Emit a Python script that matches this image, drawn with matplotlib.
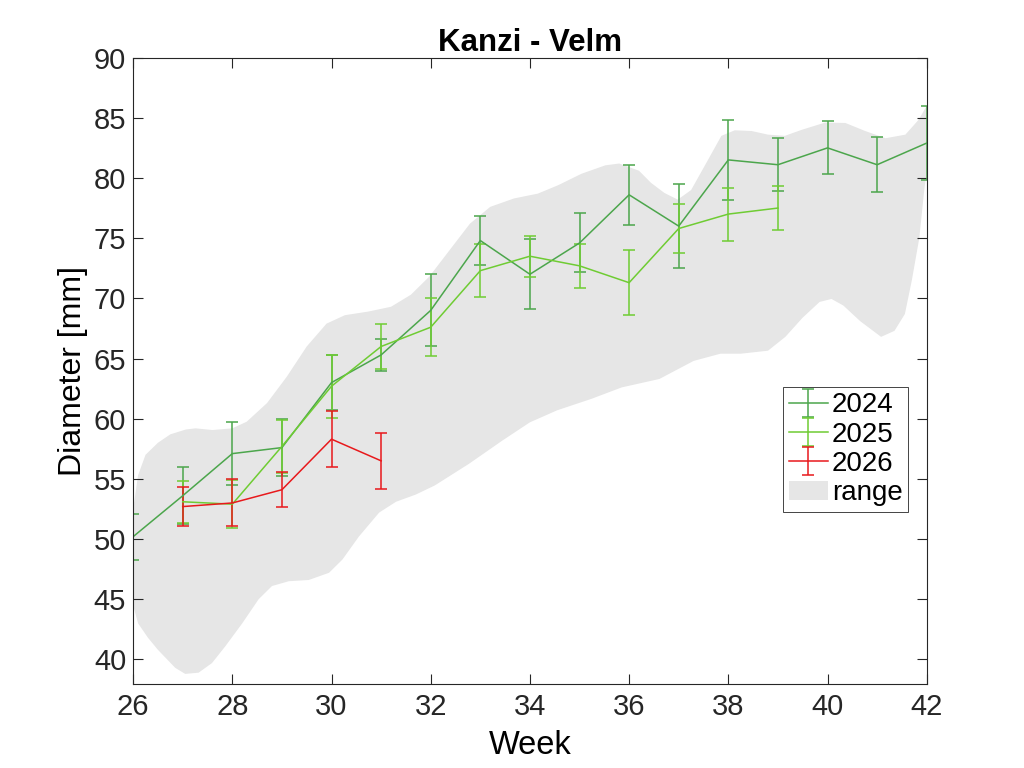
import matplotlib

matplotlib.use("Agg")

import matplotlib.pyplot as plt

plt.rcParams.update(
    {
        "font.family": ["Liberation Sans", "DejaVu Sans"],
        "font.size": 21,
        "axes.linewidth": 0.8,
        "axes.edgecolor": "#262626",
        "xtick.color": "#262626",
        "ytick.color": "#262626",
        "xtick.direction": "in",
        "ytick.direction": "in",
    }
)

# weekly mean diameter [mm] and error per year
weeks_2024 = [26, 27, 28, 29, 30, 31, 32, 33, 34, 35, 36, 37, 38, 39, 40, 41, 42]
mean_2024 = [50.2, 53.6, 57.1, 57.6, 63.0, 65.3, 69.0, 74.8, 72.0, 74.6, 78.6, 76.0, 81.5, 81.1, 82.5, 81.1, 82.9]
err_2024 = [1.9, 2.35, 2.6, 2.4, 2.3, 1.35, 3.0, 2.0, 2.9, 2.45, 2.5, 3.5, 3.3, 2.2, 2.2, 2.3, 3.1]

weeks_2025 = [27, 28, 29, 30, 31, 32, 33, 34, 35, 36, 37, 38, 39]
mean_2025 = [53.1, 52.9, 57.7, 62.7, 66.0, 67.6, 72.3, 73.5, 72.7, 71.3, 75.8, 77.0, 77.5]
err_2025 = [1.75, 2.0, 2.2, 2.6, 1.85, 2.4, 2.2, 1.7, 1.8, 2.7, 2.0, 2.2, 1.8]

weeks_2026 = [27, 28, 29, 30, 31]
mean_2026 = [52.7, 53.0, 54.1, 58.3, 56.5]
err_2026 = [1.65, 1.95, 1.45, 2.3, 2.35]

# envelope of earlier seasons ("range")
range_upper_weeks = [26.0, 26.1, 26.25, 26.5, 26.75, 27.06, 27.26, 27.6, 28.0, 28.29, 28.7, 29.1,
                     29.5, 29.9, 30.27, 30.74, 31.2, 31.6, 31.97, 32.38, 32.79, 33.2, 33.68,
                     34.16, 34.57, 35.04, 35.52, 35.8, 36.2, 36.44, 36.71, 36.98, 37.25, 37.59,
                     37.86, 38.13, 38.47, 38.8, 39.14, 39.48, 39.95, 40.36, 40.76, 41.17, 41.57,
                     41.84, 42.0]
range_upper = [52.5, 55.3, 57.0, 58.0, 58.7, 59.1, 59.2, 59.06, 59.2, 59.75, 61.3, 63.5,
               66.0, 67.9, 68.6, 68.9, 69.3, 70.3, 71.8, 74.0, 76.2, 77.6, 78.3,
               78.7, 79.4, 80.35, 81.05, 81.2, 80.6, 79.6, 78.76, 78.2, 79.0, 81.5,
               83.5, 83.96, 83.9, 83.6, 83.5, 84.0, 84.6, 84.57, 83.9, 83.3, 83.6,
               84.85, 86.0]
range_lower_weeks = [26.0, 26.1, 26.3, 26.5, 26.85, 27.05, 27.32, 27.59, 27.86, 28.2, 28.53,
                     28.8, 29.14, 29.54, 29.95, 30.22, 30.55, 30.96, 31.3, 31.7, 32.08, 32.77,
                     33.45, 34.0, 34.55, 35.24, 35.85, 36.61, 37.3, 37.84, 38.25, 38.8, 39.15,
                     39.5, 39.84, 40.08, 40.32, 40.66, 41.08, 41.35, 41.56, 41.7, 41.85, 41.95,
                     42.0]
range_lower = [44.5, 43.0, 41.8, 40.8, 39.3, 38.8, 38.9, 39.7, 41.1, 43.0, 45.0,
               46.1, 46.5, 46.6, 47.2, 48.3, 50.2, 52.2, 53.1, 53.7, 54.45, 56.25,
               58.2, 59.7, 60.7, 61.65, 62.6, 63.3, 64.8, 65.4, 65.4, 65.65, 66.8,
               68.4, 69.7, 69.95, 69.4, 68.1, 66.8, 67.3, 68.7, 71.5, 75.0, 79.0,
               80.5]

C2024 = "#4ca64c"
C2025 = "#6fcc33"
C2026 = "#e8191c"

fig = plt.figure(figsize=(10.24, 7.68), dpi=100)
ax = fig.add_axes([0.13, 0.11, 0.775, 0.815])

band = ax.fill(
    range_upper_weeks + range_lower_weeks[::-1],
    range_upper + range_lower[::-1],
    color="#e6e6e6",
    linewidth=0,
    label="range",
    zorder=1,
)[0]

eb_kw = dict(linewidth=1.1, elinewidth=1.1, capsize=4, capthick=1.1, zorder=3)
h24 = ax.errorbar(weeks_2024, mean_2024, yerr=err_2024, color=C2024, label="2024", **eb_kw)
h25 = ax.errorbar(weeks_2025, mean_2025, yerr=err_2025, color=C2025, label="2025", **eb_kw)
h26 = ax.errorbar(weeks_2026, mean_2026, yerr=err_2026, color=C2026, label="2026", **eb_kw)

ax.set_xlim(26, 42)
ax.set_ylim(38, 90)
ax.set_xticks(range(26, 43, 2))
ax.set_yticks(range(40, 91, 5))
ax.tick_params(top=True, right=True, length=7, width=0.8, labelsize=21, pad=5)
ax.tick_params(axis="x", pad=7)
for s in ax.spines.values():
    s.set_zorder(5)

ax.set_title("Kanzi - Velm", fontsize=22.5, fontweight="bold", pad=5)
ax.set_xlabel("Week", fontsize=23.5, labelpad=6)
ax.set_ylabel("Diameter [mm]", fontsize=23, labelpad=4)

leg = ax.legend(
    [h24, h25, h26, band],
    ["2024", "2025", "2026", "range"],
    loc="upper left",
    bbox_to_anchor=(0.819, 0.474),
    borderaxespad=0,
    fancybox=False,
    framealpha=1,
    edgecolor="#262626",
    fontsize=20,
    handlelength=1.4,
    handletextpad=0.15,
    borderpad=0.2,
    labelspacing=0.12,
)
leg.get_frame().set_linewidth(0.6)

fig.savefig("out.png", dpi=100)
